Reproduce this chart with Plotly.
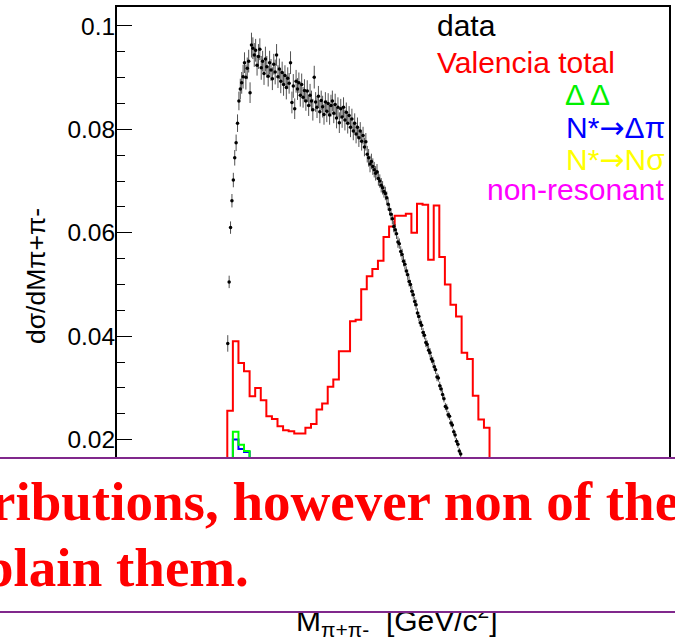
import plotly.graph_objects as go

# ---------------- data (pi+ pi- invariant mass, 1.5 MeV bins) ----------------
data_m_first = 0.2805
data_m_step = 0.0015
data_y = [
    0.0386, 0.0505, 0.0610, 0.0662, 0.0702, 0.0745, 0.0774, 0.0812, 0.0855, 0.0878,
    0.0890, 0.0902, 0.0929, 0.0901, 0.0918, 0.0932, 0.0871, 0.0963, 0.0957, 0.0944,
    0.0953, 0.0924, 0.0941, 0.0955, 0.0919, 0.0932, 0.0908, 0.0936, 0.0921, 0.0903,
    0.0929, 0.0915, 0.0898, 0.0926, 0.0911, 0.0944, 0.0902, 0.0917, 0.0893, 0.0910,
    0.0887, 0.0904, 0.0881, 0.0899, 0.0889, 0.0929, 0.0852, 0.0884, 0.0840, 0.0893,
    0.0878, 0.0890, 0.0866, 0.0887, 0.0862, 0.0875, 0.0855, 0.0874, 0.0846, 0.0866,
    0.0855, 0.0838, 0.0901, 0.0853, 0.0843, 0.0864, 0.0834, 0.0856, 0.0844, 0.0829,
    0.0853, 0.0835, 0.0850, 0.0828, 0.0846, 0.0855, 0.0831, 0.0848, 0.0822, 0.0843,
    0.0813, 0.0840, 0.0824, 0.0843, 0.0818, 0.0833, 0.0812, 0.0827, 0.0804, 0.0820,
    0.0797, 0.0812, 0.0791, 0.0804, 0.0784, 0.0797, 0.0777, 0.0788, 0.0766, 0.0776,
    0.0752, 0.0745, 0.0733, 0.0738, 0.0728, 0.0722, 0.0715, 0.0718, 0.0705, 0.0700,
    0.0692, 0.0687, 0.0680, 0.0676, 0.0668, 0.0655, 0.0645, 0.0636, 0.0627, 0.0612,
    0.0606, 0.0598, 0.0582, 0.0579, 0.0564, 0.0558, 0.0545, 0.0539, 0.0526, 0.0519,
    0.0506, 0.0500, 0.0487, 0.0480, 0.0467, 0.0461, 0.0445, 0.0438, 0.0426, 0.0421,
    0.0407, 0.0402, 0.0388, 0.0384, 0.0373, 0.0368, 0.0356, 0.0352, 0.0341, 0.0335,
    0.0321, 0.0319, 0.0304, 0.0298, 0.0287, 0.0279, 0.0264, 0.0261, 0.0248, 0.0245,
    0.0232, 0.0228, 0.0215, 0.0209, 0.0197, 0.0191, 0.0178, 0.0172, 0.0160, 0.0155,
    0.0142, 0.0137, 0.0124, 0.0119, 0.0106, 0.0101, 0.0088, 0.0083, 0.0070, 0.0065,
    0.0052,
]
data_err = [
    0.0016, 0.0012, 0.0012, 0.0013, 0.0014, 0.0015, 0.0016, 0.0017, 0.0018, 0.0020,
    0.0021, 0.0023, 0.0020, 0.0024, 0.0021, 0.0022, 0.0020, 0.0024, 0.0021, 0.0023,
    0.0022, 0.0020, 0.0024, 0.0021, 0.0023, 0.0020, 0.0022, 0.0024, 0.0021, 0.0020,
    0.0023, 0.0021, 0.0022, 0.0020, 0.0024, 0.0021, 0.0022, 0.0020, 0.0023, 0.0021,
    0.0022, 0.0020, 0.0023, 0.0021, 0.0020, 0.0022, 0.0021, 0.0023, 0.0020, 0.0022,
    0.0021, 0.0020, 0.0022, 0.0021, 0.0020, 0.0022, 0.0019, 0.0021, 0.0020, 0.0022,
    0.0020, 0.0021, 0.0022, 0.0019, 0.0021, 0.0020, 0.0022, 0.0019, 0.0021, 0.0020,
    0.0019, 0.0021, 0.0020, 0.0019, 0.0021, 0.0020, 0.0019, 0.0021, 0.0020, 0.0019,
    0.0020, 0.0019, 0.0021, 0.0019, 0.0020, 0.0019, 0.0020, 0.0018, 0.0019, 0.0020,
    0.0018, 0.0019, 0.0018, 0.0019, 0.0018, 0.0017, 0.0018, 0.0017, 0.0018, 0.0017,
    0.0016, 0.0017, 0.0016, 0.0015, 0.0016, 0.0015, 0.0014, 0.0015, 0.0014, 0.0013,
    0.0014, 0.0013, 0.0012, 0.0013, 0.0012, 0.0012, 0.0011, 0.0012, 0.0011, 0.0011,
    0.0011, 0.0010, 0.0011, 0.0010, 0.0010, 0.0011, 0.0010, 0.0010, 0.0009, 0.0010,
    0.0010, 0.0009, 0.0010, 0.0009, 0.0009, 0.0010, 0.0009, 0.0009, 0.0008, 0.0009,
    0.0009, 0.0008, 0.0009, 0.0008, 0.0008, 0.0009, 0.0008, 0.0008, 0.0008, 0.0008,
    0.0008, 0.0007, 0.0008, 0.0007, 0.0008, 0.0007, 0.0007, 0.0008, 0.0007, 0.0007,
    0.0007, 0.0007, 0.0006, 0.0007, 0.0006, 0.0007, 0.0006, 0.0006, 0.0006, 0.0006,
    0.0006, 0.0005, 0.0006, 0.0005, 0.0005, 0.0005, 0.0005, 0.0004, 0.0005, 0.0004,
    0.0004,
]

# ---------------- model histograms (6 MeV bins) ----------------
model_edge_first = 0.280
model_bin_width = 0.006
valencia_total = [
    0.0256, 0.0390, 0.0348, 0.0332, 0.0284, 0.0300, 0.0276, 0.0245, 0.0240, 0.0226,
    0.0218, 0.0216, 0.0212, 0.0212, 0.0223, 0.0230, 0.0258, 0.0270, 0.0302, 0.0316,
    0.0371, 0.0371, 0.0429, 0.0432, 0.0491, 0.0516, 0.0530, 0.0546, 0.0592, 0.0612,
    0.0633, 0.0633, 0.0637, 0.0600, 0.0656, 0.0654, 0.0548, 0.0653, 0.0553, 0.0500,
    0.0461, 0.0438, 0.0368, 0.0356, 0.0285, 0.0239, 0.0223,
]
delta_delta = [
    0.0105, 0.0215, 0.0190, 0.0178, 0.0158, 0.0146, 0.0133, 0.0121, 0.0112, 0.0104,
    0.0097, 0.0090, 0.0085, 0.0080, 0.0076, 0.0072, 0.0069, 0.0066, 0.0064, 0.0062,
    0.0060, 0.0058, 0.0057, 0.0055, 0.0054, 0.0052, 0.0050, 0.0048, 0.0046, 0.0044,
    0.0042, 0.0040, 0.0038, 0.0035, 0.0033, 0.0030, 0.0027, 0.0025, 0.0022, 0.0019,
    0.0016, 0.0013, 0.0010, 0.0008, 0.0005, 0.0003, 0.0001,
]
nstar_delta_pi = [
    0.0098, 0.0200, 0.0182, 0.0176, 0.0155, 0.0141, 0.0128, 0.0117, 0.0107, 0.0099,
    0.0092, 0.0086, 0.0081, 0.0076, 0.0072, 0.0068, 0.0065, 0.0062, 0.0059, 0.0057,
    0.0055, 0.0053, 0.0051, 0.0049, 0.0047, 0.0045, 0.0043, 0.0041, 0.0039, 0.0037,
    0.0035, 0.0033, 0.0031, 0.0029, 0.0027, 0.0025, 0.0023, 0.0021, 0.0019, 0.0017,
    0.0014, 0.0012, 0.0009, 0.0007, 0.0005, 0.0003, 0.0001,
]
nstar_n_sigma = [
    0.0010, 0.0018, 0.0020, 0.0021, 0.0022, 0.0023, 0.0024, 0.0025, 0.0026, 0.0027,
    0.0028, 0.0029, 0.0030, 0.0031, 0.0032, 0.0033, 0.0034, 0.0035, 0.0036, 0.0037,
    0.0038, 0.0039, 0.0040, 0.0041, 0.0042, 0.0043, 0.0044, 0.0045, 0.0046, 0.0047,
    0.0048, 0.0049, 0.0050, 0.0050, 0.0051, 0.0051, 0.0050, 0.0049, 0.0047, 0.0045,
    0.0042, 0.0038, 0.0033, 0.0027, 0.0020, 0.0012, 0.0005,
]
non_resonant = [
    0.0020, 0.0035, 0.0038, 0.0040, 0.0042, 0.0044, 0.0046, 0.0048, 0.0050, 0.0052,
    0.0054, 0.0056, 0.0058, 0.0060, 0.0062, 0.0064, 0.0066, 0.0068, 0.0070, 0.0072,
    0.0074, 0.0076, 0.0078, 0.0080, 0.0082, 0.0084, 0.0086, 0.0088, 0.0090, 0.0092,
    0.0094, 0.0096, 0.0098, 0.0099, 0.0100, 0.0100, 0.0099, 0.0097, 0.0094, 0.0090,
    0.0084, 0.0076, 0.0066, 0.0054, 0.0040, 0.0025, 0.0010,
]

ARROW = '<span style="font-family:DejaVu Sans">→</span>'
legend_items = [
    ("data", "#000000", 437, 36),
    ("Valencia total", "#FF0000", 437, 73),
    ("Δ Δ", "#00F000", 566, 105),
    ("N*" + ARROW + "Δπ", "#0000FF", 567, 138),
    ("N*" + ARROW + "Nσ", "#FFFF00", 567, 170),
    ("non-resonant", "#FF00FF", 487, 200),
]

box_line1 = "ributions, however non of them"
box_line2 = "plain them."
y_title = "dσ/dMπ+π-"
x_title = "M<sub>π+π-</sub>  [GeV/c<sup>2</sup>]"

# ---------------- layout geometry (pixels) ----------------
W, H = 675, 637
ML, MR, MT, MB = 117, 4, 7, 93.5
PW = W - ML - MR
PH = H - MT - MB


def fx(px):
    return (px - ML) / PW


def fy(py):
    return (H - MB - py) / PH


def step_xy(edge0, width, vals):
    xs = [edge0]
    ys = [0.0]
    for k, v in enumerate(vals):
        xs.append(edge0 + k * width)
        ys.append(v)
    xs.append(edge0 + len(vals) * width)
    ys.append(0.0)
    return xs, ys


fig = go.Figure()

for vals, col in [
    (non_resonant, "#FF00FF"),
    (nstar_n_sigma, "#FFFF00"),
    (nstar_delta_pi, "#0000FF"),
    (delta_delta, "#00FF00"),
    (valencia_total, "#FF0000"),
]:
    xs, ys = step_xy(model_edge_first, model_bin_width, vals)
    fig.add_trace(go.Scatter(x=xs, y=ys, mode="lines", line=dict(color=col, width=2, shape="hv"),
                             hoverinfo="skip"))

data_x = [data_m_first + i * data_m_step for i in range(len(data_y))]
fig.add_trace(go.Scatter(
    x=data_x, y=data_y, mode="markers",
    marker=dict(color="black", size=3.5),
    error_y=dict(type="data", array=data_err, visible=True, color="rgba(50,50,50,0.85)",
                 thickness=1, width=0),
))

annotations = []
LEG_FONT = 30
for text, col, px, base in legend_items:
    annotations.append(dict(
        text=text, xref="paper", yref="paper", x=fx(px), y=fy(base - 0.35 * LEG_FONT),
        xanchor="left", yanchor="middle", showarrow=False, borderpad=0,
        font=dict(family="Liberation Sans, Arial, sans-serif", size=LEG_FONT, color=col),
    ))

annotations.append(dict(
    text=y_title, xref="paper", yref="paper", x=fx(35), y=fy(276), textangle=-90,
    xanchor="center", yanchor="middle", showarrow=False, borderpad=0,
    font=dict(family="Liberation Sans, Arial, sans-serif", size=26.5, color="black"),
))

annotations.append(dict(
    text=x_title, xref="paper", yref="paper", x=fx(296), y=fy(621),
    xanchor="left", yanchor="middle", showarrow=False, borderpad=0,
    font=dict(family="Liberation Sans, Arial, sans-serif", size=30, color="black"),
))

# white overlay box with purple top/bottom borders
annotations.append(dict(
    text=" ", xref="paper", yref="paper", x=fx(W / 2), y=fy(535.5),
    xanchor="center", yanchor="middle", showarrow=False,
    width=W + 40, height=152, borderpad=0, borderwidth=2,
    bordercolor="rgb(128,40,140)", bgcolor="white",
))

BOX_FONT = 55
for text, px, base in [(box_line1, -10, 521), (box_line2, -18, 587)]:
    annotations.append(dict(
        text="<b>" + text + "</b>", xref="paper", yref="paper", x=fx(px), y=fy(base - 0.35 * BOX_FONT),
        xanchor="left", yanchor="middle", showarrow=False, borderpad=0,
        font=dict(family="Liberation Serif, Times New Roman, serif", size=BOX_FONT, color="#FF0000"),
    ))

fig.update_layout(
    width=W, height=H,
    margin=dict(l=ML, r=MR, t=MT, b=MB, pad=0),
    paper_bgcolor="white", plot_bgcolor="white",
    showlegend=False,
    annotations=annotations,
    xaxis=dict(range=[0.1614, 0.7550], showline=True, mirror=True, linecolor="black", linewidth=2,
               showgrid=False, zeroline=False, showticklabels=False, ticks=""),
    yaxis=dict(range=[0, 0.10367], showline=True, mirror=True, linecolor="black", linewidth=2,
               showgrid=False, zeroline=False, ticks="inside", ticklen=15, tickwidth=1,
               tickcolor="black", tick0=0, dtick=0.02, ticklabelstandoff=-5,
               tickfont=dict(family="Liberation Sans, Arial, sans-serif", size=24.5, color="black"),
               minor=dict(ticks="inside", ticklen=8, tickwidth=1, tickcolor="black", dtick=0.005,
                          showgrid=False)),
)

fig.write_html("out.html")
